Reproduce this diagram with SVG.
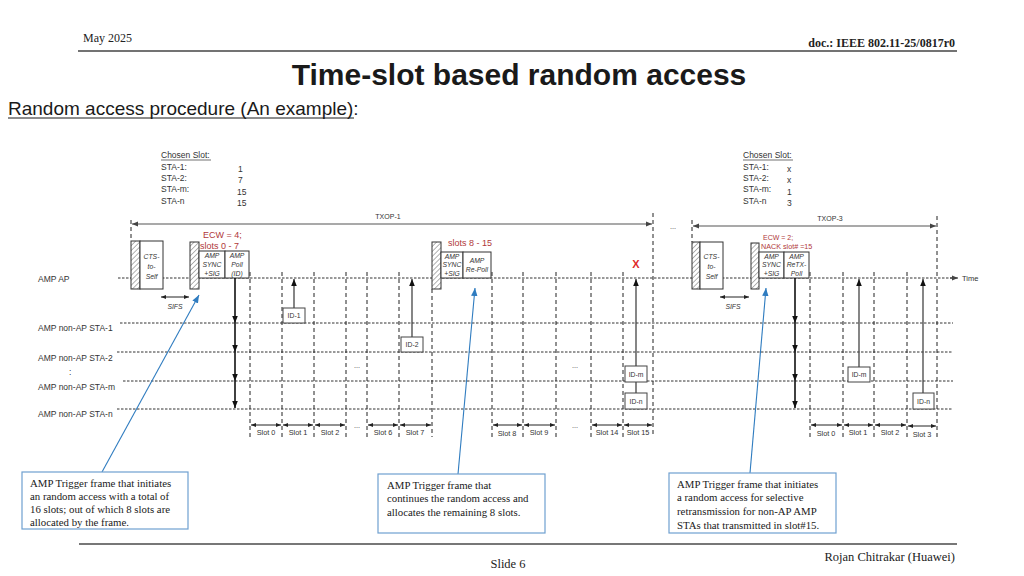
<svg xmlns="http://www.w3.org/2000/svg" width="1024" height="576" viewBox="0 0 1024 576">
<defs>
<style>
.hdr{font-family:"Liberation Serif","Times New Roman",serif;fill:#222}
.s{font-family:"Liberation Sans",Arial,sans-serif;fill:#333}
.lab{font-size:8.5px}
.sl{font-size:7.3px;text-anchor:middle}
.it{font-style:italic;font-size:6.8px;text-anchor:middle;fill:#333}
.red{fill:#b0383a}
.id{font-size:6.8px;text-anchor:middle}
.note{font-family:"Liberation Serif","Times New Roman",serif;font-size:10.8px;fill:#1a1a1a}
.tl{stroke:#333;stroke-width:1;stroke-dasharray:2.5 1.5;fill:none}
.vd{stroke:#222;stroke-width:1;stroke-dasharray:4 3;fill:none}
.sa{stroke:#222;stroke-width:1;fill:none;marker-start:url(#sm);marker-end:url(#sm)}
.fr{fill:#fff;stroke:#333;stroke-width:1}
.hb{fill:url(#hatch);stroke:#333;stroke-width:1}
.up{stroke:#444;stroke-width:1.3;fill:none;marker-end:url(#ar)}
.dn{stroke:#111;stroke-width:1.6;fill:none;marker-end:url(#ar)}
.idb{fill:#fff;stroke:#444;stroke-width:1}
.bl{stroke:#2f7cc0;stroke-width:1.1;fill:none;marker-end:url(#ba)}
.nb{fill:#fff;stroke:#6fa0d0;stroke-width:1.2}
</style>
<pattern id="hatch" width="3.5" height="3.5" patternUnits="userSpaceOnUse" patternTransform="rotate(45)">
<rect width="3.5" height="3.5" fill="#fff"/>
<line x1="0" y1="0" x2="0" y2="3.5" stroke="#555" stroke-width="0.9"/>
</pattern>
<marker id="ar" viewBox="0 0 10 10" refX="10" refY="5" markerWidth="7" markerHeight="7" markerUnits="userSpaceOnUse" orient="auto-start-reverse"><path d="M0,1 L10,5 L0,9 z" fill="#111"/></marker>
<marker id="sm" viewBox="0 0 10 10" refX="10" refY="5" markerWidth="5" markerHeight="5" markerUnits="userSpaceOnUse" orient="auto-start-reverse"><path d="M0,1 L10,5 L0,9 z" fill="#222"/></marker>
<marker id="tx" viewBox="0 0 10 10" refX="10" refY="5" markerWidth="6" markerHeight="6" markerUnits="userSpaceOnUse" orient="auto-start-reverse"><path d="M0,1 L10,5 L0,9 z" fill="#444"/></marker>
<marker id="ba" viewBox="0 0 10 10" refX="10" refY="5" markerWidth="8" markerHeight="8" markerUnits="userSpaceOnUse" orient="auto-start-reverse"><path d="M0,1 L10,5 L0,9 z" fill="#2f7cc0"/></marker>
</defs>
<rect width="1024" height="576" fill="#fff"/>

<g id="header">
<text class="hdr" x="83" y="42" font-size="12">May 2025</text>
<text class="hdr" x="955" y="47" font-size="12" font-weight="bold" text-anchor="end">doc.: IEEE 802.11-25/0817r0</text>
<line x1="78" y1="51" x2="957" y2="51" stroke="#444" stroke-width="1.5"/>
<text x="519" y="85" font-family="Liberation Sans,Arial,sans-serif" font-size="30" font-weight="bold" text-anchor="middle" fill="#1a1a1a">Time-slot based random access</text>
<text x="8" y="115" font-family="Liberation Sans,Arial,sans-serif" font-size="19" fill="#1a1a1a">Random access procedure (An example):</text>
<line x1="8" y1="118" x2="354" y2="118" stroke="#1a1a1a" stroke-width="1"/>
</g>

<g id="footer">
<line x1="79" y1="544" x2="957" y2="544" stroke="#777" stroke-width="2"/>
<text class="hdr" x="508" y="568" font-size="12.5" text-anchor="middle">Slide 6</text>
<text class="hdr" x="955" y="561" font-size="12.5" text-anchor="end">Rojan Chitrakar (Huawei)</text>
</g>

<g id="chosen-slot-1" class="s lab">
<text x="161" y="158">Chosen Slot:</text>
<line x1="161" y1="160" x2="211" y2="160" stroke="#333" stroke-width="0.7"/>
<text x="161" y="170">STA-1:</text><text x="161" y="181">STA-2:</text><text x="161" y="192">STA-m:</text><text x="161" y="204">STA-n</text>
<text x="238" y="172">1</text><text x="238" y="183">7</text><text x="237" y="195">15</text><text x="237" y="206">15</text>
</g>
<g id="chosen-slot-3" class="s lab">
<text x="743" y="158">Chosen Slot:</text>
<line x1="743" y1="160" x2="793" y2="160" stroke="#333" stroke-width="0.7"/>
<text x="743" y="170">STA-1:</text><text x="743" y="181">STA-2:</text><text x="743" y="192">STA-m:</text><text x="743" y="204">STA-n</text>
<text x="787" y="172">x</text><text x="787" y="183">x</text><text x="787" y="195">1</text><text x="787" y="206">3</text>
</g>

<g id="row-labels" class="s lab">
<text x="38" y="282">AMP AP</text>
<text x="38" y="331">AMP non-AP STA-1</text>
<text x="38" y="361">AMP non-AP STA-2</text>
<text x="69" y="375">:</text>
<text x="38" y="390">AMP non-AP STA-m</text>
<text x="38" y="417">AMP non-AP STA-n</text>
</g>

<g id="timelines">
<line class="tl" x1="118" y1="278" x2="957" y2="278"/>
<path d="M950,278 L958,278" stroke="#333" marker-end="url(#tx)"/>
<text class="s" x="962" y="281" font-size="7.5">Time</text>
<line class="tl" x1="120" y1="323" x2="953" y2="323"/>
<line class="tl" x1="117" y1="352" x2="953" y2="352"/>
<line class="tl" x1="123" y1="381" x2="953" y2="381"/>
<line class="tl" x1="117" y1="409" x2="953" y2="409"/>
</g>

<g id="slot-grid">
<line class="vd" x1="250" y1="272" x2="250" y2="437"/>
<line class="vd" x1="282" y1="272" x2="282" y2="437"/>
<line class="vd" x1="314" y1="272" x2="314" y2="437"/>
<line class="vd" x1="346" y1="272" x2="346" y2="437"/>
<line class="vd" x1="367" y1="272" x2="367" y2="437"/>
<line class="vd" x1="399" y1="272" x2="399" y2="437"/>
<line class="vd" x1="432" y1="289" x2="432" y2="437"/>
<line class="vd" x1="492" y1="272" x2="492" y2="437"/>
<line class="vd" x1="523" y1="272" x2="523" y2="437"/>
<line class="vd" x1="556" y1="272" x2="556" y2="437"/>
<line class="vd" x1="591" y1="272" x2="591" y2="437"/>
<line class="vd" x1="623" y1="272" x2="623" y2="437"/>
<line class="vd" x1="653" y1="213" x2="653" y2="437"/>
<line class="vd" x1="131" y1="220" x2="131" y2="241"/>
<line class="vd" x1="692" y1="220" x2="692" y2="242"/>
<line class="vd" x1="810" y1="272" x2="810" y2="437"/>
<line class="vd" x1="843" y1="272" x2="843" y2="437"/>
<line class="vd" x1="874" y1="272" x2="874" y2="437"/>
<line class="vd" x1="907" y1="272" x2="907" y2="437"/>
<line class="vd" x1="937" y1="216" x2="937" y2="437"/>
</g>

<g id="slot-arrows">
<line class="sa" x1="251" y1="425" x2="281" y2="425"/>
<line class="sa" x1="283" y1="425" x2="313" y2="425"/>
<line class="sa" x1="315" y1="425" x2="345" y2="425"/>
<line class="sa" x1="368" y1="425" x2="398" y2="425"/>
<line class="sa" x1="400" y1="425" x2="431" y2="425"/>
<line class="sa" x1="493" y1="425" x2="522" y2="425"/>
<line class="sa" x1="524" y1="425" x2="555" y2="425"/>
<line class="sa" x1="592" y1="425" x2="622" y2="425"/>
<line class="sa" x1="624" y1="425" x2="652" y2="425"/>
<line class="sa" x1="811" y1="425" x2="842" y2="425"/>
<line class="sa" x1="844" y1="425" x2="873" y2="425"/>
<line class="sa" x1="875" y1="425" x2="906" y2="425"/>
<line class="sa" x1="908" y1="426" x2="936" y2="426"/>
<g class="s sl">
<text x="266" y="435">Slot 0</text><text x="298" y="435">Slot 1</text><text x="330" y="435">Slot 2</text>
<text x="383" y="435">Slot 6</text><text x="415" y="435">Slot 7</text>
<text x="507" y="436">Slot 8</text><text x="539" y="435">Slot 9</text>
<text x="607" y="435">Slot 14</text><text x="638" y="435">Slot 15</text>
<text x="826" y="436">Slot 0</text><text x="858" y="435">Slot 1</text><text x="890" y="435">Slot 2</text><text x="922" y="437">Slot 3</text>
<text x="357" y="428">...</text><text x="575" y="428">...</text>
<text x="357" y="368">...</text><text x="575" y="368">...</text>
<text x="673" y="229">...</text>
</g>
</g>

<g id="txop">
<line x1="132" y1="224" x2="652" y2="224" stroke="#555" stroke-width="1.2" marker-start="url(#tx)" marker-end="url(#tx)"/>
<text class="s" x="388" y="219" font-size="7" text-anchor="middle">TXOP-1</text>
<line x1="693" y1="226" x2="936" y2="226" stroke="#555" stroke-width="1.2" marker-start="url(#tx)" marker-end="url(#tx)"/>
<text class="s" x="830" y="221" font-size="7" text-anchor="middle">TXOP-3</text>
</g>

<g id="cts-1">
<rect class="hb" x="131" y="241" width="9" height="48"/>
<rect class="fr" x="140" y="241" width="23" height="48"/>
<text class="s it" x="151.5" y="259">CTS-</text><text class="s it" x="151.5" y="269">to-</text><text class="s it" x="151.5" y="279">Self</text>
</g>
<g id="sifs-1">
<line x1="161" y1="297" x2="189" y2="297" stroke="#222" marker-start="url(#sm)" marker-end="url(#sm)"/>
<text class="s it" x="175" y="309">SIFS</text>
</g>
<g id="trigger-1">
<rect class="hb" x="190" y="242" width="9" height="47"/>
<rect class="fr" x="199" y="251" width="26" height="27"/>
<rect class="fr" x="225" y="251" width="24" height="27"/>
<text class="s it" x="212" y="258">AMP</text><text class="s it" x="212" y="267">SYNC</text><text class="s it" x="212" y="276">+SIG</text>
<text class="s it" x="237" y="258">AMP</text><text class="s it" x="237" y="267">Poll</text><text class="s it" x="237" y="276">(ID)</text>
<text class="s red" x="203" y="238" font-size="9">ECW = 4;</text>
<text class="s red" x="200" y="249" font-size="9">slots 0 - 7</text>
</g>
<g id="trigger-2">
<rect class="hb" x="432" y="242" width="9" height="47"/>
<rect class="fr" x="441" y="252" width="22" height="26"/>
<rect class="fr" x="463" y="252" width="28" height="26"/>
<text class="s it" x="452" y="259">AMP</text><text class="s it" x="452" y="267">SYNC</text><text class="s it" x="452" y="276">+SIG</text>
<text class="s it" x="477" y="263">AMP</text><text class="s it" x="477" y="272">Re-Poll</text>
<text class="s red" x="448" y="246" font-size="9">slots 8 - 15</text>
</g>
<text id="collision" x="636" y="268" font-family="Liberation Sans,Arial,sans-serif" font-size="11" font-weight="bold" fill="#e02a2a" text-anchor="middle">X</text>

<g id="cts-3">
<rect class="hb" x="692" y="242" width="8" height="47"/>
<rect class="fr" x="700" y="242" width="23" height="47"/>
<text class="s it" x="711.5" y="259">CTS-</text><text class="s it" x="711.5" y="269">to-</text><text class="s it" x="711.5" y="279">Self</text>
</g>
<g id="sifs-3">
<line x1="720" y1="297" x2="749" y2="297" stroke="#222" marker-start="url(#sm)" marker-end="url(#sm)"/>
<text class="s it" x="733" y="309">SIFS</text>
</g>
<g id="trigger-3">
<rect class="hb" x="751" y="243" width="8" height="46"/>
<rect class="fr" x="759" y="252" width="25" height="26"/>
<rect class="fr" x="784" y="252" width="25" height="26"/>
<text class="s it" x="771.5" y="259">AMP</text><text class="s it" x="771.5" y="267">SYNC</text><text class="s it" x="771.5" y="276">+SIG</text>
<text class="s it" x="796.5" y="259">AMP</text><text class="s it" x="796.5" y="267">ReTX-</text><text class="s it" x="796.5" y="276">Poll</text>
<text class="s red" x="763" y="240" font-size="7">ECW = 2;</text>
<text class="s red" x="761" y="249" font-size="7.2">NACK slot# =15</text>
</g>

<g id="ids" class="s">
<rect class="idb" x="283" y="308" width="22" height="15"/><text class="id" x="294" y="318">ID-1</text>
<rect class="idb" x="401" y="337" width="22" height="15"/><text class="id" x="412" y="347">ID-2</text>
<rect class="idb" x="625" y="366" width="22" height="16"/><text class="id" x="636" y="377">ID-m</text>
<rect class="idb" x="625" y="393" width="22" height="16"/><text class="id" x="636" y="404">ID-n</text>
<rect class="idb" x="848" y="367" width="22" height="15"/><text class="id" x="859" y="377">ID-m</text>
<rect class="idb" x="913" y="393" width="21" height="16"/><text class="id" x="923.5" y="404">ID-n</text>
</g>

<g id="connectors">
<path class="dn" d="M235,278 L235,323"/>
<path class="dn" d="M235,323 L235,352"/>
<path class="dn" d="M235,352 L235,381"/>
<path class="dn" d="M235,381 L235,408"/>
<path class="dn" d="M795,278 L795,323"/>
<path class="dn" d="M795,323 L795,352"/>
<path class="dn" d="M795,352 L795,381"/>
<path class="dn" d="M795,381 L795,408"/>
<path class="up" d="M294,308 L294,279"/>
<path class="up" d="M412,337 L412,279"/>
<path class="up" d="M636,366 L636,279"/>
<line x1="636" y1="382" x2="636" y2="393" stroke="#444" stroke-width="1.3"/>
<path class="up" d="M859,367 L859,279"/>
<path class="up" d="M923,393 L923,279"/>
<path class="bl" d="M102,472 L199,295"/>
<path class="bl" d="M458,474 L475,288"/>
<path class="bl" d="M750,473 L766,288"/>
</g>

<g id="note-1">
<rect class="nb" x="22" y="472" width="166" height="57"/>
<text class="note" x="30" y="487">AMP Trigger frame that initiates</text>
<text class="note" x="30" y="500">an random access with a total of</text>
<text class="note" x="30" y="513">16 slots; out of which 8 slots are</text>
<text class="note" x="30" y="526">allocated by the frame.</text>
</g>
<g id="note-2">
<rect class="nb" x="378" y="474" width="167" height="59"/>
<text class="note" x="387" y="489">AMP Trigger frame that</text>
<text class="note" x="387" y="502">continues the random access and</text>
<text class="note" x="387" y="516">allocates the remaining 8 slots.</text>
</g>
<g id="note-3">
<rect class="nb" x="669" y="473" width="167" height="60"/>
<text class="note" x="677" y="488">AMP Trigger frame that initiates</text>
<text class="note" x="677" y="501">a random access for selective</text>
<text class="note" x="677" y="515">retransmission for non-AP AMP</text>
<text class="note" x="677" y="529">STAs that transmitted in slot#15.</text>
</g>
</svg>
